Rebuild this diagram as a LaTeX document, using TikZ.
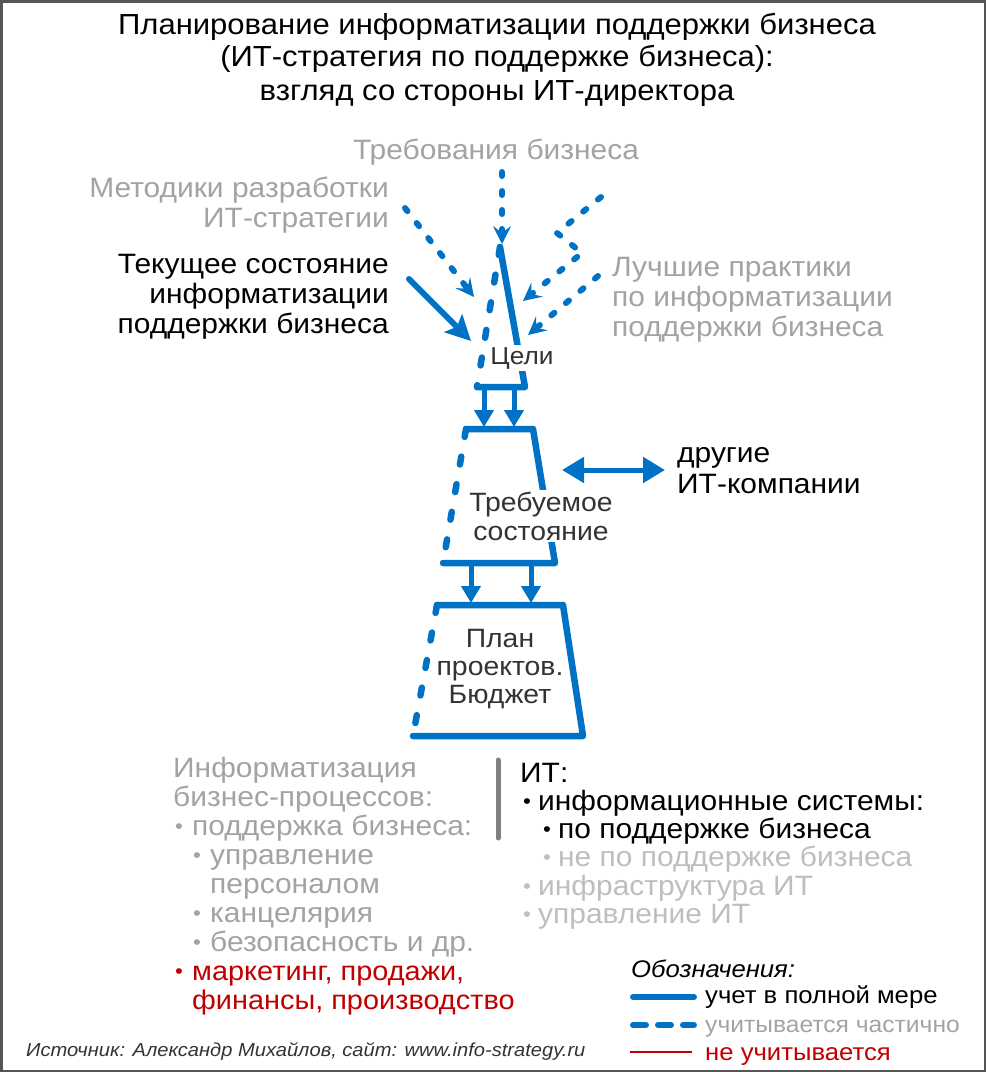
\documentclass[tikz,border=0pt]{standalone}
\usepackage{fontspec}
\setmainfont{Liberation Sans}[FakeStretch=1.07]
\usetikzlibrary{arrows.meta}
\definecolor{bl}{RGB}{0,114,198}
\definecolor{gtxt}{RGB}{163,163,163}
\definecolor{ltxt}{RGB}{190,190,190}
\definecolor{rd}{RGB}{192,0,0}
\definecolor{frm}{RGB}{85,85,85}
\definecolor{dtxt}{RGB}{51,51,51}
\definecolor{barg}{RGB}{128,128,128}
\newcommand\fsz[2]{\fontsize{#1}{#2}\selectfont}
\newcommand\bdot{{\fontsize{21}{21}\selectfont\raisebox{1.5pt}{•}}}
\newcommand\bulA{\makebox[17pt][l]{\bdot}}
\newcommand\bulB{\makebox[15pt][l]{\bdot}}
\begin{document}
\begin{tikzpicture}[x=1pt,y=-1pt,
  every node/.style={inner sep=0pt},
  full/.style={draw=bl,line width=6.5pt,line cap=round,line join=round},
  part/.style={draw=bl,line width=6.5pt,line cap=round,dash pattern=on 8pt off 20pt},
  partin/.style={draw=bl,line width=6pt,line cap=round,dash pattern=on 4pt off 15pt,
     -{Stealth[length=18pt,width=18pt,inset=7pt]}},
  fullin/.style={draw=bl,line width=6pt,line cap=round,
     -{Stealth[length=25pt,width=25pt,inset=5pt]}},
  down/.style={draw=bl,line width=5pt,-{Triangle[length=17pt,width=19pt]}},
  both/.style={draw=bl,line width=5pt,{Triangle[length=22pt,width=25pt]}-{Triangle[length=22pt,width=25pt]}},
  ttl/.style={font=\fsz{29}{32}},
  lbl/.style={font=\fsz{28}{30}},
  inner/.style={font=\fsz{26.5}{29},text=dtxt,align=center},
  lst/.style={font=\fsz{28}{29}},
  leg/.style={font=\fsz{24}{26}},
]
\useasboundingbox (0,0) rectangle (986,1072);
\draw[frm,line width=2.5pt] (1.25,1.25) rectangle (984.75,1070.75);

% title
\node[ttl,anchor=base] (t1) at (497,34) {Планирование информатизации поддержки бизнеса};
\node[ttl,anchor=base] (t2) at (497,66) {(ИТ-стратегия по поддержке бизнеса):};
\node[ttl,anchor=base] (t3) at (497,100) {взгляд со стороны ИТ-директора};

% inputs
\node[lbl,text=gtxt,anchor=base] (req) at (496,159) {Требования бизнеса};
\node[lbl,text=gtxt,anchor=base east] (meth1) at (389,197) {Методики разработки};
\node[lbl,text=gtxt,anchor=base east] (meth2) at (389,227) {ИТ-стратегии};
\node[lbl,anchor=base east] (cur1) at (389,273) {Текущее состояние};
\node[lbl,anchor=base east] (cur2) at (389,303) {информатизации};
\node[lbl,anchor=base east] (cur3) at (389,333) {поддержки бизнеса};
\node[lbl,text=gtxt,anchor=base west] (best1) at (612,276) {Лучшие практики};
\node[lbl,text=gtxt,anchor=base west] (best2) at (612,306) {по информатизации};
\node[lbl,text=gtxt,anchor=base west] (best3) at (612,336) {поддержки бизнеса};

% goal triangle
\coordinate (gA) at (500,247);
\coordinate (gL) at (477,387);
\coordinate (gR) at (525,387);
\draw[full] (gL) -- (gR) -- (gA);
\draw[part] (gA) -- (gL);
\node[inner,font=\fsz{24.5}{28},fill=white,inner sep=2pt,anchor=base] (goal) at (522,364) {Цели};

% trapezoid 2
\coordinate (bTL) at (466,429);
\coordinate (bTR) at (533,429);
\coordinate (bBR) at (555,563);
\coordinate (bBL) at (443,563);
\draw[full] (bTL) -- (bTR) -- (bBR) -- (bBL);
\draw[part] (bTL) -- (bBL);
\node[inner,fill=white,inner sep=2pt] (need) at (541,516) {Требуемое\\состояние};

% trapezoid 3
\coordinate (cTL) at (437,605);
\coordinate (cTR) at (563,605);
\coordinate (cBR) at (583,736);
\coordinate (cBL) at (413,736);
\draw[full] (cTL) -- (cTR) -- (cBR) -- (cBL);
\draw[part] (cTL) -- (cBL);
\node[inner,font=\fsz{26.5}{28}] (plan) at (500,669) {План\\проектов.\\Бюджет};

% incoming arrows
\coordinate (reqS) at (502,172);
\coordinate (reqT) at (502,244);
\draw[partin] (reqS) -- (reqT);
\coordinate (methS) at (405,208);
\coordinate (methT) at (474,297);
\draw[partin] (methS) -- (methT);
\coordinate (curS) at (409,279);
\coordinate (curT) at (471,341);
\draw[fullin] (curS) -- (curT);
\coordinate (bestS) at (601,197);
\coordinate (bestK1) at (557,233);
\coordinate (bestK2) at (582,253);
\coordinate (bestT) at (523,301);
\draw[partin] (bestS) -- (bestK1) -- (bestK2) -- (bestT);
\coordinate (best2S) at (598,276);
\coordinate (best2T) at (528,335);
\draw[partin] (best2S) -- (best2T);

% down arrows
\coordinate (d1s) at (484,388); \coordinate (d1t) at (484,427);
\coordinate (d2s) at (514,388); \coordinate (d2t) at (514,427);
\draw[down] (d1s) -- (d1t);
\draw[down] (d2s) -- (d2t);
\coordinate (d3s) at (471,563); \coordinate (d3t) at (471,603);
\coordinate (d4s) at (531,563); \coordinate (d4t) at (531,603);
\draw[down] (d3s) -- (d3t);
\draw[down] (d4s) -- (d4t);

% other IT companies
\node[lbl,anchor=base west] (oth1) at (677,462) {другие};
\node[lbl,anchor=base west] (oth2) at (677,493) {ИТ-компании};
\coordinate (dblL) at (562,470);
\coordinate (dblR) at (665,470);
\draw[both] (dblL) -- (dblR);

% left list
\node[lst,text=gtxt,anchor=base west] (L1) at (173,777) {Информатизация};
\node[lst,text=gtxt,anchor=base west] (L2) at (173,806) {бизнес-процессов:};
\node[lst,text=gtxt,anchor=base west] (L3) at (175,835) {\bulA поддержка бизнеса:};
\node[lst,text=gtxt,anchor=base west] (L4) at (193,864) {\bulA управление};
\node[lst,text=gtxt,anchor=base west] (L5) at (210,893) {персоналом};
\node[lst,text=gtxt,anchor=base west] (L6) at (193,922) {\bulA канцелярия};
\node[lst,text=gtxt,anchor=base west] (L7) at (193,951) {\bulA безопасность и др.};
\node[lst,font=\fsz{27}{29},text=rd,anchor=base west] (L8) at (175,980) {\bulA маркетинг, продажи,};
\node[lst,font=\fsz{27}{29},text=rd,anchor=base west] (L9) at (192,1009) {финансы, производство};

% separator
\coordinate (sepT) at (498,760);
\coordinate (sepB) at (498,838);
\draw[barg,line width=5pt,line cap=round] (sepT) -- (sepB);

% right list
\node[lst,anchor=base west] (R1) at (520,782) {ИТ:};
\node[lst,anchor=base west] (R2) at (523,810) {\bulB информационные системы:};
\node[lst,anchor=base west] (R3) at (543,838) {\bulB по поддержке бизнеса};
\node[lst,text=ltxt,anchor=base west] (R4) at (543,866) {\bulB не по поддержке бизнеса};
\node[lst,text=ltxt,anchor=base west] (R5) at (523,895) {\bulB инфраструктура ИТ};
\node[lst,text=ltxt,anchor=base west] (R6) at (523,923) {\bulB управление ИТ};

% legend
\node[leg,font=\fsz{24}{26}\itshape,anchor=base west] (leg0) at (631,977) {Обозначения:};
\coordinate (l1a) at (633,997); \coordinate (l1b) at (694,997);
\draw[full,line width=6pt] (l1a) -- (l1b);
\node[leg,anchor=base west] (leg1) at (705,1003) {учет в полной мере};
\coordinate (l2a) at (633,1025); \coordinate (l2b) at (694,1025);
\draw[draw=bl,line width=6pt,line cap=round,dash pattern=on 13pt off 12pt] (l2a) -- (l2b);
\node[leg,font=\fsz{23}{26},text=gtxt,anchor=base west] (leg2) at (705,1032) {учитывается частично};
\coordinate (l3a) at (630,1052); \coordinate (l3b) at (692,1052);
\draw[rd,line width=2pt] (l3a) -- (l3b);
\node[leg,text=rd,anchor=base west] (leg3) at (705,1060) {не учитывается};

% source
\node[font=\fsz{18.8}{22}\itshape,text=dtxt,anchor=base west] (src) at (26,1056) {Источник: Александр Михайлов, сайт: www.info-strategy.ru};
\end{tikzpicture}
\end{document}
